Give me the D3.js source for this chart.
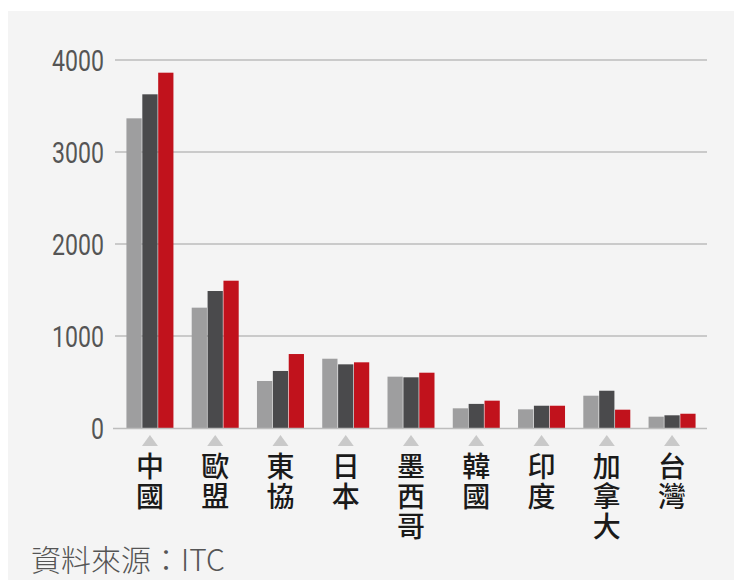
<!DOCTYPE html>
<html lang="zh-Hant">
  <head>
    <script src="https://d3js.org/d3.v7.min.js"></script>
    <meta charset="utf-8">
    <title>ITC</title>
    <style>
      body { margin: 0; background: #fff; }
    </style>
  </head>
  <body>
    <div id="chart"></div>
  <script>

    // data
    const regions = ["中國", "歐盟", "東協", "日本", "墨西哥", "韓國", "印度", "加拿大", "台灣"];
    const series1 = [3366, 1308, 511, 753, 558, 214, 203, 351, 123];
    const series2 = [3627, 1489, 620, 692, 551, 262, 242, 405, 138];
    const series3 = [3862, 1601, 804, 714, 601, 297, 242, 199, 155];
    const yTicks = [0, 1000, 2000, 3000, 4000];
    const source = "資料來源：ITC";

    const colors = ["#9e9e9f", "#4a4a4c", "#c1121c"];

    const W = 734, H = 580;

    const svg = d3.select("#chart")
      .append("svg")
        .attr("width", W)
        .attr("height", H);

    // panel
    svg.append("rect")
      .attr("x", 8)
      .attr("y", 11)
      .attr("width", W - 8)
      .attr("height", H - 11)
      .attr("fill", "#f4f4f4");

    const x = d3.scaleBand()
      .domain(regions)
      .range([116, 706])
      .paddingInner(0.28)
      .paddingOuter(0.16);

    const xs = d3.scaleBand()
      .domain([0, 1, 2])
      .range([0, x.bandwidth()])
      .paddingInner(0.04);

    const y = d3.scaleLinear()
      .domain([0, 4000])
      .range([428, 60]);

    // gridlines
    svg.append("g")
      .selectAll("line")
      .data(yTicks.filter(d => d > 0))
      .join("line")
        .attr("x1", 115)
        .attr("x2", 707)
        .attr("y1", d => y(d))
        .attr("y2", d => y(d))
        .attr("stroke", "#bdbdbd")
        .attr("stroke-width", 1.5);

    // y labels, squeezed to look like the condensed face
    svg.append("g")
      .selectAll("text")
      .data(yTicks)
      .join("text")
        .attr("transform", d => `translate(104,${y(d)}) scale(0.77,1)`)
        .attr("dy", "0.36em")
        .attr("text-anchor", "end")
        .style("font-family", "Roboto, sans-serif")
        .style("font-size", "30px")
        .style("fill", "#555")
        .text(d => d);

    // bars
    const table = regions.map((r, i) => ({ region: r, values: [series1[i], series2[i], series3[i]] }));

    const groups = svg.append("g")
      .selectAll("g")
      .data(table)
      .join("g")
        .attr("transform", d => `translate(${x(d.region)},0)`);

    groups.selectAll("rect")
      .data(d => d.values)
      .join("rect")
        .attr("x", (d, i) => xs(i))
        .attr("y", d => y(d))
        .attr("width", xs.bandwidth())
        .attr("height", d => y(0) - y(d))
        .attr("fill", (d, i) => colors[i]);

    // baseline
    svg.append("line")
      .attr("x1", 113)
      .attr("x2", 707)
      .attr("y1", y(0) + 0.5)
      .attr("y2", y(0) + 0.5)
      .attr("stroke", "#bdbdbd")
      .attr("stroke-width", 1.5);

    // triangles
    svg.append("g")
      .selectAll("path")
      .data(regions)
      .join("path")
        .attr("d", d => {
          const cx = x(d) + x.bandwidth() / 2;
          return `M${cx - 8},446 L${cx},435 L${cx + 8},446 Z`;
        })
        .attr("fill", "#c9c9c9");

    // vertical category labels
    svg.append("g")
      .selectAll("text")
      .data(regions)
      .join("text")
        .attr("x", d => x(d) + x.bandwidth() / 2)
        .attr("y", 452)
        .style("writing-mode", "vertical-rl")
        .style("letter-spacing", "2px")
        .style("font-family", "'Noto Sans CJK TC', sans-serif")
        .style("font-size", "28px")
        .style("font-weight", "500")
        .style("fill", "#1a1a1a")
        .text(d => d);

    // source
    svg.append("text")
      .attr("x", 31)
      .attr("y", 571)
      .style("font-family", "'Noto Sans CJK TC', sans-serif")
      .style("font-size", "30px")
      .style("font-weight", "300")
      .style("fill", "#555")
      .text(source);

  </script>
  </body>
</html>
